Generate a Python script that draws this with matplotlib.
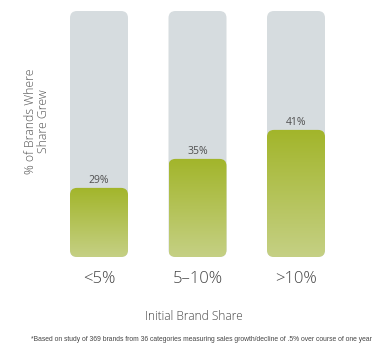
import numpy as np
import matplotlib
matplotlib.use("Agg")
import matplotlib.pyplot as plt
from matplotlib.patches import FancyBboxPatch
from matplotlib.colors import LinearSegmentedColormap

categories = ["<5%", "5\u201310%", ">10%"]
values = [29, 35, 41]
value_labels = ["29%", "35%", "41%"]
x_label = "Initial Brand Share"
y_label = "% of Brands Where\nShare Grew"
footnote = ("*Based on study of 369 brands from 36 categories measuring sales "
            "growth/decline of .5% over course of one year")

W, H = 374, 349
fig = plt.figure(figsize=(W / 100, H / 100), dpi=100)
fig.patch.set_facecolor("white")

ymin, ymax = 14.7, 65.6
ax_left, ax_w = 49.75 / W, 295.5 / W
ax_bot, ax_h = 92 / H, 246 / H
ax = fig.add_axes([ax_left, ax_bot, ax_w, ax_h])
ax.set_xlim(-0.5, 2.5)
ax.set_ylim(ymin, ymax)
for s in ax.spines.values():
    s.set_visible(False)
ax.set_yticks([])
ax.tick_params(axis="x", length=0, pad=10)

bar_w = 58 / 295.5 * 3
x_per_px = 3 / 295.5
y_per_px = (ymax - ymin) / 246
asp = y_per_px / x_per_px
rad = 7 * x_per_px

cmap = LinearSegmentedColormap.from_list("g", ["#c5d084", "#a2b52a"])
grad = np.linspace(0, 1, 256).reshape(-1, 1)

font = "Open Sans"

xs = np.arange(len(categories))
for x, v, lab in zip(xs, values, value_labels):
    bg = FancyBboxPatch((x - bar_w / 2, ymin), bar_w, ymax - ymin,
                        boxstyle=f"round,pad=0,rounding_size={rad}",
                        mutation_aspect=asp, facecolor="#d6dcdf",
                        edgecolor="none", zorder=1)
    ax.add_patch(bg)
    fg = FancyBboxPatch((x - bar_w / 2, ymin), bar_w, v - ymin,
                        boxstyle=f"round,pad=0,rounding_size={rad}",
                        mutation_aspect=asp, facecolor="none",
                        edgecolor="none", zorder=2)
    ax.add_patch(fg)
    im = ax.imshow(grad, extent=[x - bar_w / 2, x + bar_w / 2, ymin, v],
                   origin="lower", cmap=cmap, aspect="auto", zorder=2)
    im.set_clip_path(fg)
    ax.text(x, v + 0.45, lab, ha="center", va="bottom", fontsize=7.5,
            color="#505050", family=font)

ax.set_xlim(-0.5, 2.5)
ax.set_ylim(ymin, ymax)
ax.set_xticks(xs)
ax.set_xticklabels(categories, fontsize=12, color="#444444", family=font,
                   fontweight="light")

fig.text(194 / W, 1 - 316.5 / H, x_label, ha="center", va="center",
         fontsize=8.6, color="#444444", family=font, fontweight="light")
fig.text(37 / W, 1 - 121 / H, y_label, ha="center", va="center",
         rotation=90, fontsize=8.8, color="#505050", family=font,
         fontweight="light", linespacing=1.05)
fig.text(201.5 / W, 1 - 339.5 / H, footnote, ha="center", va="center",
         fontsize=4.85, color="#444444", family="Liberation Sans")

fig.savefig("out.png", dpi=100, facecolor="white")
